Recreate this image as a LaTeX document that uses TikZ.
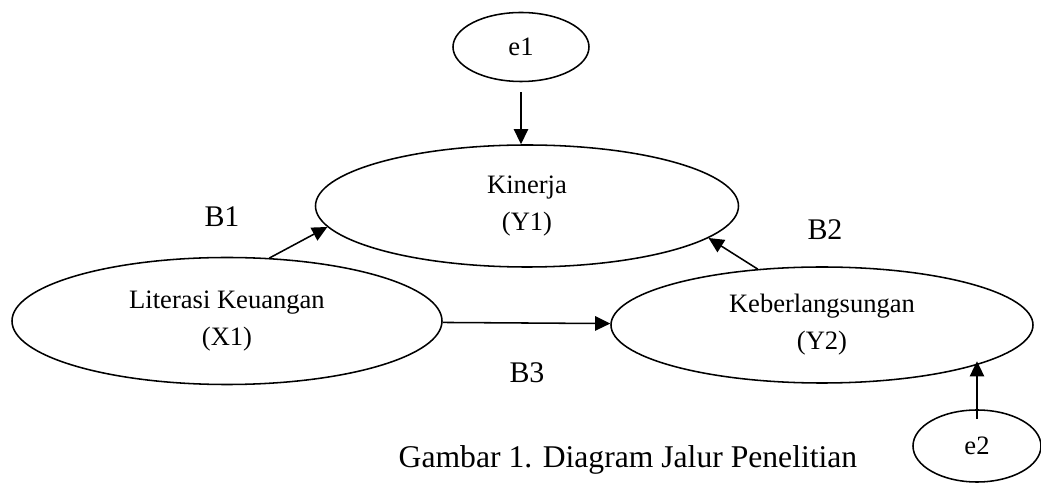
\documentclass[tikz,border=0pt]{standalone}
\usepackage{fontspec}
\setmainfont{Liberation Serif}
\usepackage{tikz}
\usetikzlibrary{shapes, arrows.meta, positioning}
\tikzstyle{latent} = [ellipse, draw=black, line width=1.1pt, inner sep=1pt, align=center, font=\fontsize{18.9pt}{26.3pt}\selectfont]
\tikzstyle{error} = [ellipse, draw=black, line width=1.1pt, minimum width=3.3cm, minimum height=1.75cm, inner sep=1pt, font=\fontsize{18.9pt}{26.3pt}\selectfont]
\tikzstyle{coef} = [inner sep=0pt, font=\fontsize{21.3pt}{25pt}\selectfont]
\tikzstyle{caption} = [inner sep=0pt, font=\fontsize{22.5pt}{27pt}\selectfont]
\tikzstyle{connect} = [-{Triangle[length=3.8mm, width=3.6mm]}, line width=1.1pt]

\begin{document}
\begin{tikzpicture}[node distance=3cm]
\useasboundingbox (-13.175,-6.95) rectangle (12.85,5.15);
\node (y1) [latent, minimum width=10.575cm, minimum height=3.05cm] {Kinerja\\(Y1)};
\node (e1) [error, above of=y1, xshift=-0.15cm, yshift=0.975cm, minimum width=3.4cm, minimum height=1.725cm] {e1};
\node (x1) [latent, below of=y1, xshift=-7.5cm, yshift=0.125cm, minimum width=10.75cm, minimum height=3.175cm] {Literasi Keuangan\\(X1)};
\node (y2) [latent, below of=y1, xshift=7.375cm, yshift=0.025cm, minimum width=10.55cm, minimum height=2.9cm] {Keberlangsungan\\(Y2)};
\node (e2) [error, below of=y2, xshift=3.875cm, yshift=-0.025cm, minimum width=3.2cm, minimum height=1.8cm] {e2};
\node (b1) [coef, below of=y1, xshift=-7.625cm, yshift=2.725cm] {B1};
\node (b2) [coef, below of=y1, xshift=7.45cm, yshift=2.4cm] {B2};
\node (b3) [coef, below of=y1, yshift=-1.175cm] {B3};
\node (cap) [caption, below of=y1, xshift=2.525cm, yshift=-3.35cm] {Gambar 1. Diagram Jalur Penelitian};

\draw[connect] ([yshift=-0.25cm]e1.south) -- (e1.south |- y1.north);
\draw[connect] (x1.56) -- (y1.186);
\draw[connect] (y2.139) -- (y1.-10);
\draw[connect] (x1) -- (y2);
\draw[connect] ([yshift=-0.25cm]e2.north) -- ([yshift=1.2cm]e2.north);
\end{tikzpicture}
\end{document}
